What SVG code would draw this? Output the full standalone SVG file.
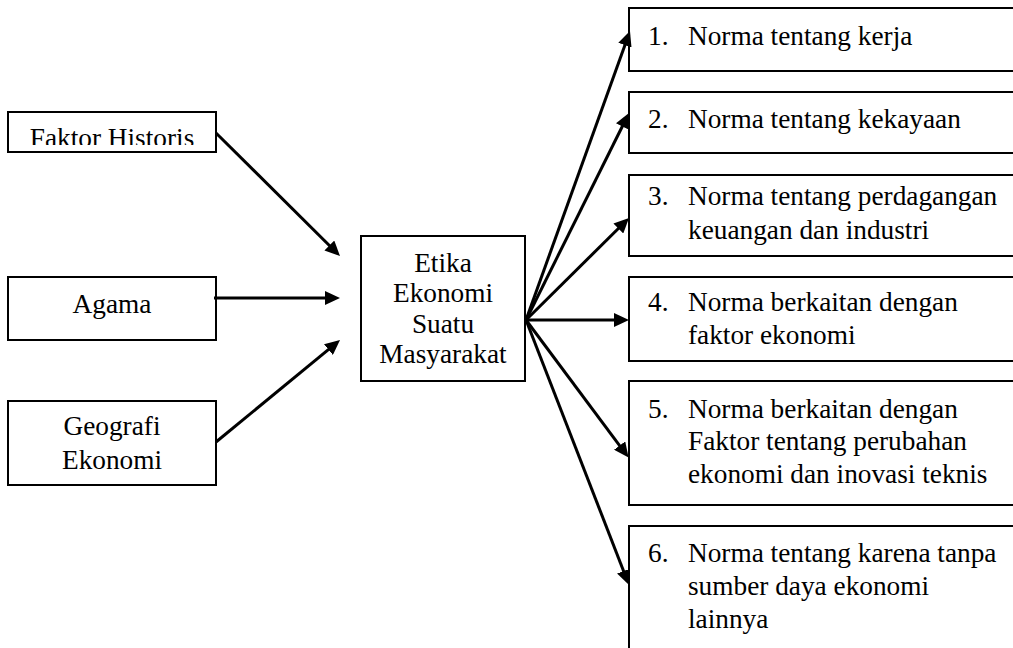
<svg xmlns="http://www.w3.org/2000/svg" width="1013" height="648" viewBox="0 0 1013 648">
<style>
  .box { fill: #fff; stroke: #000; stroke-width: 2; }
  .t { font-family: 'Liberation Serif', 'Times New Roman', serif; font-size: 27.3px; fill: #000; }
  .c { text-anchor: middle; }
  .conn line { stroke: #000; stroke-width: 3; marker-end: url(#ah); }
</style>
<defs>
  <marker id="ah" markerUnits="userSpaceOnUse" markerWidth="15" markerHeight="14" refX="5" refY="7" orient="auto">
    <path d="M0,0 L15,7 L0,14 z" fill="#000"/>
  </marker>
  <clipPath id="clipFH"><rect x="8" y="112" width="208" height="33"/></clipPath>
</defs>
<rect width="1013" height="648" fill="#fff"/>

<g id="faktor-historis">
  <rect class="box" x="8" y="112" width="208" height="40"/>
  <text class="t c" x="112" y="147" clip-path="url(#clipFH)">Faktor Historis</text>
</g>
<g id="agama">
  <rect class="box" x="8" y="277" width="208" height="63"/>
  <text class="t c" x="112" y="313">Agama</text>
</g>
<g id="geografi-ekonomi">
  <rect class="box" x="8" y="401" width="208" height="84"/>
  <text class="t c" x="112" y="435">Geografi</text>
  <text class="t c" x="112" y="469">Ekonomi</text>
</g>
<g id="etika">
  <rect class="box" x="361" y="236" width="164" height="145"/>
  <text class="t c" x="443" y="272">Etika</text>
  <text class="t c" x="443" y="302">Ekonomi</text>
  <text class="t c" x="443" y="333">Suatu</text>
  <text class="t c" x="443" y="363">Masyarakat</text>
</g>

<g id="n1">
  <rect class="box" x="629" y="8" width="400" height="63"/>
  <text class="t" x="648" y="45">1.</text>
  <text class="t" x="688" y="45">Norma tentang kerja</text>
</g>
<g id="n2">
  <rect class="box" x="629" y="92" width="400" height="61"/>
  <text class="t" x="648" y="128">2.</text>
  <text class="t" x="688" y="128">Norma tentang kekayaan</text>
</g>
<g id="n3">
  <rect class="box" x="629" y="175" width="400" height="81"/>
  <text class="t" x="648" y="205">3.</text>
  <text class="t" x="688" y="205">Norma tentang perdagangan</text>
  <text class="t" x="688" y="239">keuangan dan industri</text>
</g>
<g id="n4">
  <rect class="box" x="629" y="277" width="400" height="84"/>
  <text class="t" x="648" y="311">4.</text>
  <text class="t" x="688" y="311">Norma berkaitan dengan</text>
  <text class="t" x="688" y="344">faktor ekonomi</text>
</g>
<g id="n5">
  <rect class="box" x="629" y="381" width="400" height="124"/>
  <text class="t" x="648" y="418">5.</text>
  <text class="t" x="688" y="418">Norma berkaitan dengan</text>
  <text class="t" x="688" y="450">Faktor tentang perubahan</text>
  <text class="t" x="688" y="483">ekonomi dan inovasi teknis</text>
</g>
<g id="n6">
  <rect class="box" x="629" y="526" width="400" height="140"/>
  <text class="t" x="648" y="562">6.</text>
  <text class="t" x="688" y="562">Norma tentang karena tanpa</text>
  <text class="t" x="688" y="595">sumber daya ekonomi</text>
  <text class="t" x="688" y="628">lainnya</text>
</g>

<g id="connectors" class="conn">
  <line x1="216" y1="133" x2="332.9" y2="249"/>
  <line x1="214" y1="298" x2="330" y2="298"/>
  <line x1="216" y1="442" x2="332.3" y2="346.4"/>
  <line x1="526" y1="320" x2="626.6" y2="40.4"/>
  <line x1="526" y1="320" x2="624.5" y2="122"/>
  <line x1="526" y1="320" x2="621.9" y2="225"/>
  <line x1="526" y1="320" x2="619" y2="320"/>
  <line x1="526" y1="320" x2="622.6" y2="449.6"/>
  <line x1="526" y1="320" x2="625.4" y2="575.7"/>
</g>
</svg>
